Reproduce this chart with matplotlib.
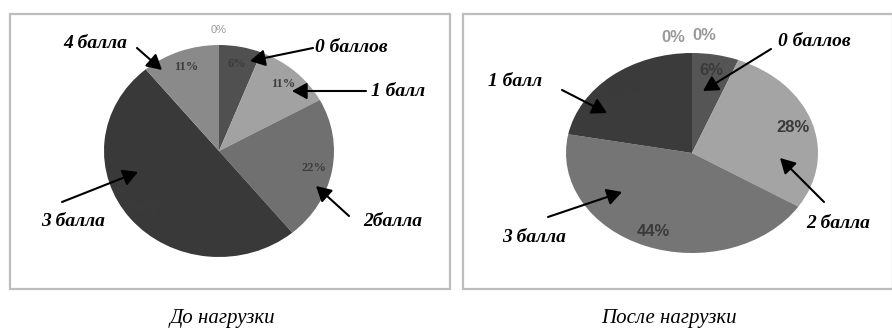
import matplotlib
matplotlib.use("Agg")
import matplotlib.pyplot as plt
from matplotlib.patches import Rectangle, FancyArrowPatch

W, H = 892, 329

# Data
before_labels = ["0 баллов", "1 балл", "2 балла", "3 балла", "4 балла", "5 баллов"]
before_values = [6, 11, 22, 50, 11, 0]
before_colors = ["#505050", "#a2a2a2", "#707070", "#393939", "#8a8a8a", "#b0b0b0"]

after_labels = ["0 баллов", "2 балла", "3 балла", "1 балл", "4 балла", "5 баллов"]
after_values = [6, 28, 44, 22, 0, 0]
after_colors = ["#555555", "#a4a4a4", "#757575", "#3b3b3b", "#8a8a8a", "#b0b0b0"]

captions = ["До нагрузки", "После нагрузки"]


def px(x, y):
    return x / W, 1 - y / H


fig = plt.figure(figsize=(W / 100, H / 100), dpi=100)

# frames around both charts
for x0, x1 in [(10, 450), (463, 893)]:
    fig.patches.append(Rectangle(px(x0, 289), (x1 - x0) / W, 275 / H,
                                 transform=fig.transFigure, fill=False,
                                 edgecolor="#bdbdbd", linewidth=1.6))


def draw_pie(cx, cy, rx, ry, values, colors, fsize, family, weight, pct_color):
    ax = fig.add_axes([(cx - rx) / W, 1 - (cy + ry) / H, 2 * rx / W, 2 * ry / H])
    wedges, texts, autotexts = ax.pie(values, colors=colors, startangle=90, counterclock=False,
                                      autopct=lambda p: "%d%%" % round(p), pctdistance=0.84,
                                      wedgeprops={"linewidth": 0})
    ax.set_aspect("auto")
    ax.set_xlim(-1, 1)
    ax.set_ylim(-1, 1)
    for t in autotexts:
        t.set_fontsize(fsize)
        t.set_family(family)
        t.set_weight(weight)
        t.set_color(pct_color)
    return ax, autotexts


serif = ["Liberation Serif", "DejaVu Serif"]
sans = ["Liberation Sans", "DejaVu Sans"]

# left pie
axl, atl = draw_pie(219, 151, 115, 106, before_values, before_colors, 9, serif, "bold", "#3c3c3c")
atl[-1].set_position((0, 1.14))
atl[-1].set_color("#9a9a9a")
atl[-1].set_fontfamily(sans)
atl[-1].set_fontweight("normal")
atl[-1].set_fontsize(8)

# right pie
axr, atr = draw_pie(692, 153, 126, 100, after_values, after_colors, 12, sans, "bold", "#3a3a3a")
atr[-2].set_position((-0.15, 1.16))
atr[-1].set_position((0.1, 1.18))
for t in atr[-2:]:
    t.set_color("#9a9a9a")

# arrows with labels (text position, arrow tail, arrow head) in pixels
arrows = [
    ("4 балла", (95, 43), (137, 48), (162, 70)),
    ("0 баллов", (351, 48), (313, 48), (250, 61)),
    ("1 балл", (398, 91), (366, 91), (292, 91)),
    ("2балла", (393, 221), (349, 216), (316, 186)),
    ("3 балла", (73, 222), (62, 202), (138, 172)),
    ("0 баллов", (814, 42), (771, 49), (703, 91)),
    ("1 балл", (515, 81), (562, 90), (607, 113)),
    ("2 балла", (838, 224), (824, 202), (780, 158)),
    ("3 балла", (534, 238), (548, 217), (622, 192)),
]
for label, tpos, tail, head in arrows:
    fig.text(*px(*tpos), label, ha="center", va="center", fontsize=14,
             family=serif, style="italic", weight="bold")
    fig.patches.append(FancyArrowPatch(
        px(*tail), px(*head), transform=fig.transFigure,
        arrowstyle="-|>,head_length=9,head_width=5", color="black",
        linewidth=1.5, shrinkA=0, shrinkB=0))

fig.text(*px(222, 319), captions[0], ha="center", va="center", fontsize=15,
         family=serif, style="italic")
fig.text(*px(669, 319), captions[1], ha="center", va="center", fontsize=15,
         family=serif, style="italic")

fig.savefig("out.png", dpi=100)
